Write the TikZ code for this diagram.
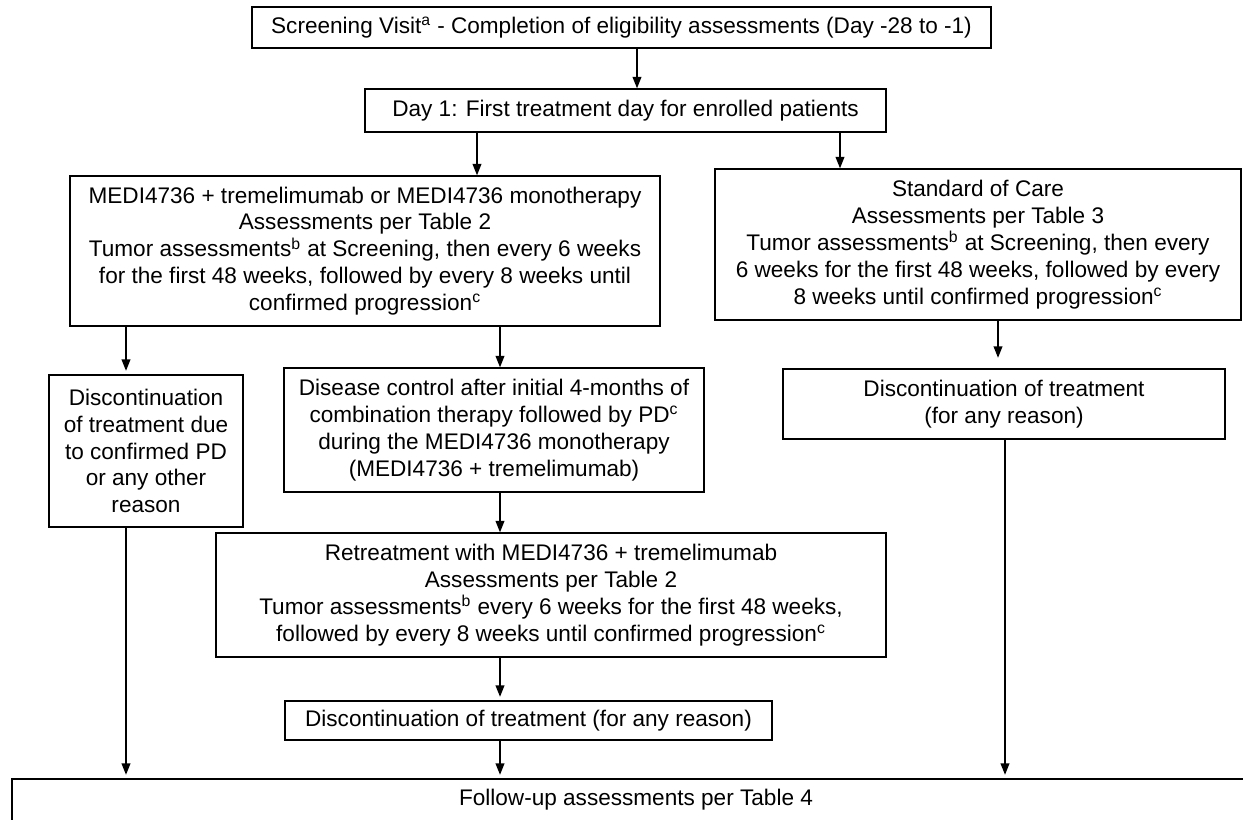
\documentclass[tikz,border=0pt]{standalone}
\usepackage{fontspec}
\setmainfont{Liberation Sans}
\usetikzlibrary{arrows.meta}

\begin{document}
\begin{tikzpicture}[x=0.02cm, y=-0.02cm, line width=0.75pt,
  box/.style={draw, line width=0.8pt, align=center, inner sep=0pt,
    font=\fontsize{12.85}{15.3}\selectfont},
  >={Triangle[width=5pt,length=6.5pt]}]
\clip (0,0) rectangle (1243,819);
\node at (621.5, 27.5) [box, minimum width=14.78cm, minimum height=0.82cm] (screen)
  {Screening Visit\textsuperscript{a} - Completion of eligibility assessments (Day -28 to -1)};
\node at (625.5, 110.5) [box, minimum width=10.42cm, minimum height=0.86cm] (day1)
  {Day 1: First treatment day for enrolled patients};
\node at (365, 251) [box, minimum width=11.8cm, minimum height=3.0cm] (medi)
  {MEDI4736 + tremelimumab or MEDI4736 monotherapy\\
   Assessments per Table 2\\
   Tumor assessments\textsuperscript{b} at Screening, then every 6 weeks\\
   for the first 48 weeks, followed by every 8 weeks until\\
   confirmed progression\textsuperscript{c}};
\node at (978, 244.5) [box, minimum width=10.52cm, minimum height=3.02cm] (soc)
  {Standard of Care\\
   Assessments per Table 3\\
   Tumor assessments\textsuperscript{b} at Screening, then every\\
   6 weeks for the first 48 weeks, followed by every\\
   8 weeks until confirmed progression\textsuperscript{c}};
\node at (146, 451) [box, minimum width=3.88cm, minimum height=3.04cm] (discL)
  {Discontinuation\\ of treatment due\\ to confirmed PD\\ or any other\\ reason};
\node at (494, 430) [box, minimum width=8.4cm, minimum height=2.48cm] (ctrl)
  {Disease control after initial 4-months of\\
   combination therapy followed by PD\textsuperscript{c}\\
   during the MEDI4736 monotherapy\\
   (MEDI4736 + tremelimumab)};
\node at (1004, 404) [box, minimum width=8.84cm, minimum height=1.4cm] (discR)
  {Discontinuation of treatment\\ (for any reason)};
\node at (551, 595) [box, minimum width=13.4cm, minimum height=2.48cm] (retreat)
  {Retreatment with MEDI4736 + tremelimumab\\
   Assessments per Table 2\\
   Tumor assessments\textsuperscript{b} every 6 weeks for the first 48 weeks,\\
   followed by every 8 weeks until confirmed progression\textsuperscript{c}};
\node at (528.5, 720.5) [box, minimum width=9.74cm, minimum height=0.78cm] (discB)
  {Discontinuation of treatment (for any reason)};
\node at (636, 800) [box, minimum width=24.96cm, minimum height=0.84cm] (follow)
  {Follow-up assessments per Table 4};
% x positions of the arrows
\coordinate (xa) at (637, 0);
\coordinate (xb) at (477, 0);
\coordinate (xc) at (840, 0);
\coordinate (xd) at (126, 0);
\coordinate (xe) at (500, 0);
\coordinate (xf) at (998, 0);
\coordinate (xg) at (1005, 0);
\draw [->] (screen.south -| xa) to (day1.north -| xa);
\draw [->] (day1.south -| xb) to (medi.north -| xb);
\draw [->] (day1.south -| xc) to (soc.north -| xc);
\draw [->] (medi.south -| xd) to ([yshift=2pt]discL.north -| xd);
\draw [->] (medi.south -| xe) to (ctrl.north -| xe);
\draw [->] (soc.south -| xf) to ([yshift=6pt]discR.north -| xf);
\draw [->] (ctrl.south -| xe) to (retreat.north -| xe);
\draw [->] (retreat.south -| xe) to ([yshift=2pt]discB.north -| xe);
\draw [->] (discL.south -| xd) to ([yshift=2pt]follow.north -| xd);
\draw [->] (discB.south -| xe) to ([yshift=2pt]follow.north -| xe);
\draw [->] (discR.south -| xg) to ([yshift=2pt]follow.north -| xg);
\end{tikzpicture}
\end{document}
